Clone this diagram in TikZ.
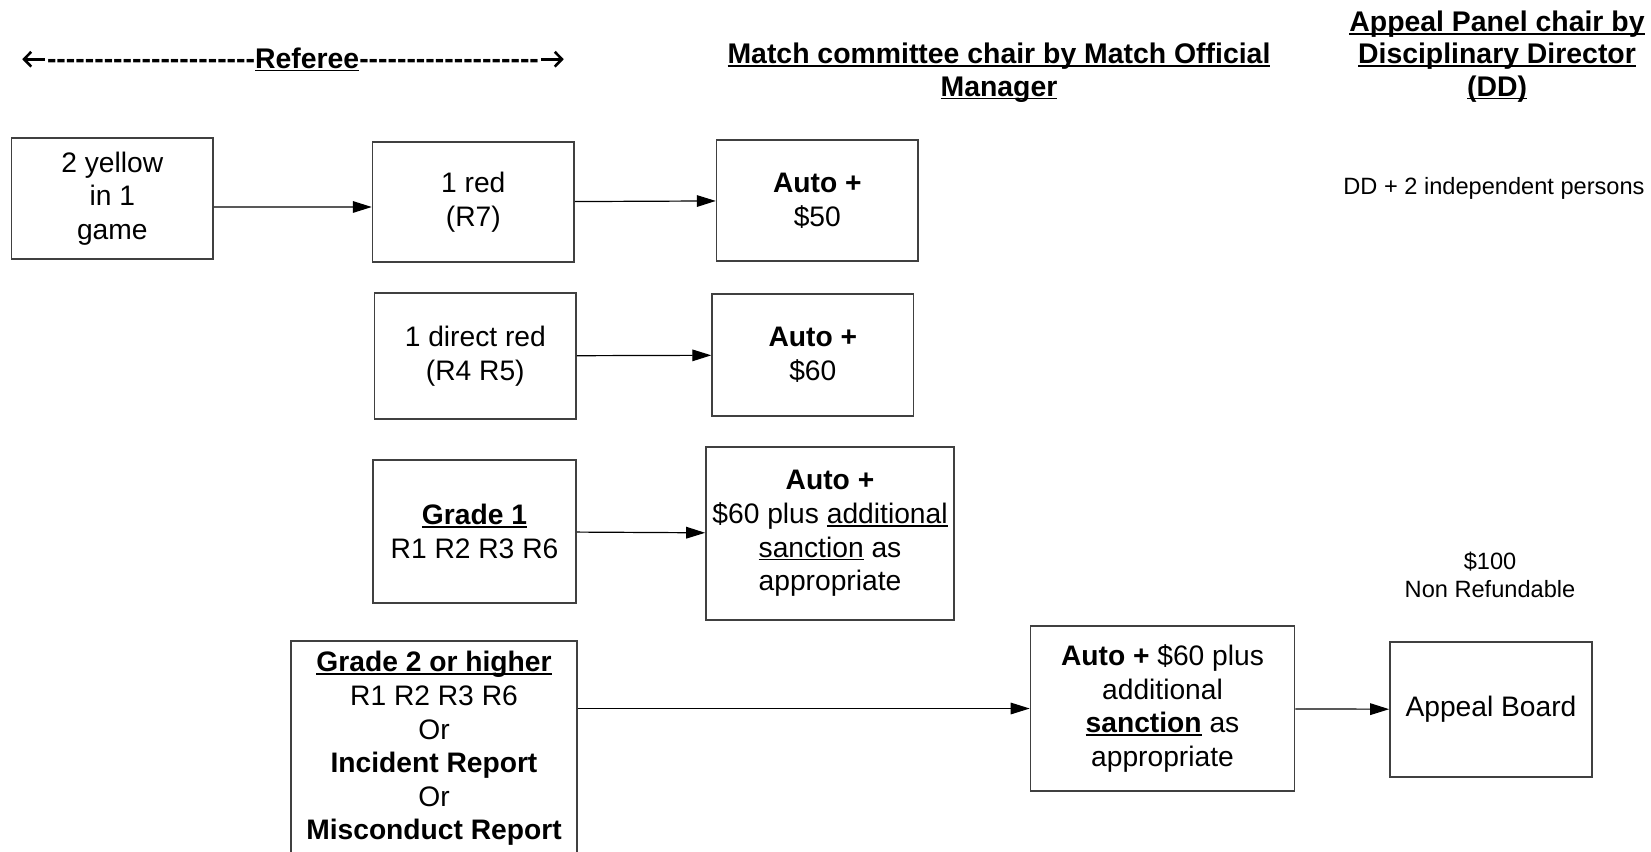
\documentclass[tikz,border=0pt]{standalone}
\usepackage{fontspec}
\setmainfont{Liberation Sans}
\usetikzlibrary{arrows.meta}
% underline that runs through the descenders
\newcommand\undl[1]{\setbox0\hbox{#1}\rlap{\rule[-1.7pt]{\wd0}{0.9pt}}\box0\relax}
\newcommand\dashrow[1]{\foreach \i in {1,...,#1}{\hbox{-}}}
\begin{document}
\begin{tikzpicture}[x=0.5pt, y=-0.5pt,
    box/.style={draw=black!75, line width=0.8pt, align=center, inner sep=0pt,
      font=\fontsize{14.1}{16.8}\selectfont},
    head/.style={align=center, anchor=base, inner sep=0pt,
      font=\bfseries\fontsize{14.2}{16.2}\selectfont},
    note/.style={align=center, inner sep=0pt, font=\fontsize{11.8}{14}\selectfont},
    arr/.style={-{Triangle[length=9.5pt,width=5.8pt]}, line width=0.6pt},
    chev/.style={-{Straight Barb[length=3.6pt,width=7.4pt]}, line width=1.3pt}]
  \useasboundingbox (0,0) rectangle (1651,852);
  % headings (base = last line)
  \node[head] (referee) at (293,68) {\hspace*{13pt}\dashrow{22}\undl{Referee}\dashrow{19}\hspace*{13pt}};
  \draw[chev] ([shift={(12pt,4.4pt)}]referee.base west) -- ([shift={(0.8pt,4.4pt)}]referee.base west);
  \draw[chev] ([shift={(-12pt,4.4pt)}]referee.base east) -- ([shift={(-0.8pt,4.4pt)}]referee.base east);
  \node[head] (match) at (999,96) {\undl{Match committee chair by Match Official}\\\undl{Manager}};
  \node[head] (appeal) at (1497,96) {\undl{Appeal Panel chair by}\\\undl{Disciplinary Director}\\\undl{(DD)}};
  \node[note] (panel) at (1494,188) {DD + 2 independent persons};
  \node[note] (fee) at (1490,575) {\$100\\Non Refundable};
  % boxes
  \node[box, minimum width=100.7pt, minimum height=60.5pt] (yellow) at (112.3,198.5) {2 yellow\\in 1\\game};
  \node[box, minimum width=100.7pt, minimum height=60pt] (red) at (473.3,202) {1 red\\(R7)};
  \node[box, minimum width=100.7pt, minimum height=60.5pt] (auto50) at (817.3,200.5) {\textbf{Auto +}\\\$50};
  \node[box, minimum width=100.7pt, minimum height=63pt] (dred) at (475.3,356) {1 direct red\\(R4 R5)};
  \node[box, minimum width=100.7pt, minimum height=61pt] (auto60) at (812.8,355) {\textbf{Auto +}\\\$60};
  \node[box, minimum width=101.5pt, minimum height=71.5pt] (grone) at (474.5,531.5) {\undl{\textbf{Grade 1}}\\R1 R2 R3 R6};
  \node[box, minimum width=124pt, minimum height=86.5pt] (autoadd) at (830,533.5) {\textbf{Auto +}\\\$60 plus \undl{additional}\\\undl{sanction} as\\appropriate};
  \node[box, minimum width=143pt, minimum height=107.5pt] (grtwo) at (434,748.5) {\undl{\textbf{Grade 2 or higher}}\\R1 R2 R3 R6\\Or\\\textbf{Incident Report}\\Or\\\textbf{Misconduct Report}};
  \node[box, minimum width=132pt, minimum height=82.5pt] (autofull) at (1162.5,708.5) {\textbf{Auto +} \$60 plus\\additional\\\undl{\textbf{sanction}} as\\appropriate};
  \node[box, minimum width=101pt, minimum height=67.5pt] (board) at (1491,709.5) {Appeal Board};
  % arrows
  \draw[arr] ([yshift=-4.2pt]yellow.east) -- ([yshift=-2.5pt]red.west);
  \draw[arr] (red) -- (auto50);
  \draw[arr] (dred) -- (auto60);
  \draw[arr] (grone) -- (autoadd);
  \draw[arr] (grtwo.east |- autofull.west) -- (autofull.west);
  \draw[arr] (autofull) -- (board);
\end{tikzpicture}
\end{document}
